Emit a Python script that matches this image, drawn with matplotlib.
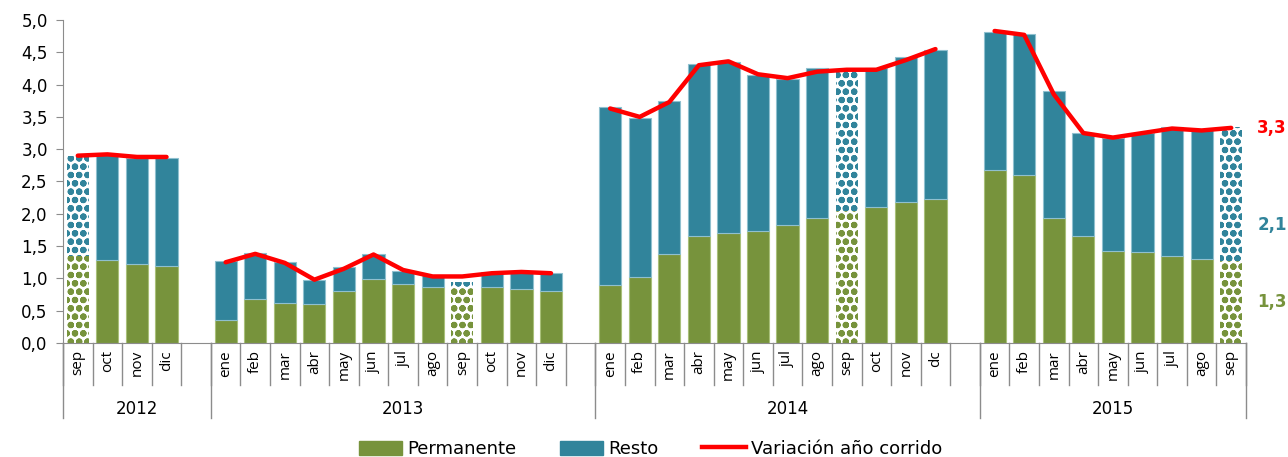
import numpy as np
import matplotlib
matplotlib.use("Agg")
import matplotlib.pyplot as plt
from matplotlib.patches import Patch
from matplotlib.lines import Line2D
import matplotlib.transforms as mtransforms

plt.rcParams['font.family'] = 'DejaVu Sans'
plt.rcParams['hatch.linewidth'] = 2.2

GREEN = '#77933C'
TEAL = '#31849B'
RED = '#FF0000'
GRAY = '#8C8C8C'

years = ['2012', '2013', '2014', '2015']
months = [
    ['sep', 'oct', 'nov', 'dic'],
    ['ene', 'feb', 'mar', 'abr', 'may', 'jun', 'jul', 'ago', 'sep', 'oct', 'nov', 'dic'],
    ['ene', 'feb', 'mar', 'abr', 'may', 'jun', 'jul', 'ago', 'sep', 'oct', 'nov', 'dc'],
    ['ene', 'feb', 'mar', 'abr', 'may', 'jun', 'jul', 'ago', 'sep'],
]
permanente = [
    [1.35, 1.28, 1.22, 1.19],
    [0.35, 0.68, 0.62, 0.60, 0.80, 0.99, 0.92, 0.87, 0.87, 0.86, 0.84, 0.80],
    [0.90, 1.02, 1.37, 1.65, 1.70, 1.73, 1.82, 1.93, 2.05, 2.10, 2.18, 2.23],
    [2.68, 2.60, 1.93, 1.65, 1.43, 1.41, 1.35, 1.30, 1.27],
]
total = [
    [2.90, 2.92, 2.87, 2.87],
    [1.27, 1.39, 1.25, 0.97, 1.17, 1.37, 1.12, 1.05, 0.95, 1.10, 1.10, 1.08],
    [3.65, 3.48, 3.75, 4.32, 4.35, 4.15, 4.08, 4.25, 4.22, 4.25, 4.43, 4.53],
    [4.82, 4.78, 3.90, 3.25, 3.17, 3.25, 3.35, 3.32, 3.35],
]
variacion = [
    [2.90, 2.92, 2.88, 2.88],
    [1.25, 1.38, 1.24, 0.98, 1.15, 1.37, 1.13, 1.03, 1.03, 1.08, 1.10, 1.08],
    [3.63, 3.50, 3.73, 4.30, 4.36, 4.16, 4.10, 4.20, 4.23, 4.23, 4.38, 4.55],
    [4.83, 4.77, 3.85, 3.25, 3.18, 3.25, 3.32, 3.29, 3.33],
]
# septiembre de cada año va con trama
hatched_month = 'sep'

# build flat series with one empty slot between years
labels, perm, tot, var, hatched = [], [], [], [], []
year_bounds = []
for yi, yr in enumerate(years):
    start = len(labels)
    for m, p, t, v in zip(months[yi], permanente[yi], total[yi], variacion[yi]):
        labels.append(m)
        perm.append(p)
        tot.append(t)
        var.append(v)
        hatched.append(m == hatched_month)
    if yi < len(years) - 1:
        labels.append('')
        perm.append(np.nan)
        tot.append(np.nan)
        var.append(np.nan)
        hatched.append(False)
    year_bounds.append((start, len(labels)))

perm = np.array(perm)
tot = np.array(tot)
var = np.array(var)
resto = tot - perm
x = np.arange(len(labels))

fig = plt.figure(figsize=(12.88, 4.57), dpi=100)
ax = fig.add_axes([63 / 1288, 1 - 343 / 457, (1246 - 63) / 1288, (343 - 20) / 457])

w = 0.75
for i in x:
    if np.isnan(perm[i]):
        continue
    if hatched[i]:
        ax.bar(i, perm[i], w, color='white', edgecolor=GREEN, hatch='oo', linewidth=0)
        ax.bar(i, resto[i], w, bottom=perm[i], color='white', edgecolor=TEAL, hatch='oo', linewidth=0)
    else:
        ax.bar(i, perm[i], w, color=GREEN, edgecolor='#A9C07A', linewidth=0.8)
        ax.bar(i, resto[i], w, bottom=perm[i], color=TEAL, edgecolor='#8FC0CF', linewidth=0.8)

ax.plot(x, var, color=RED, lw=3.2, solid_capstyle='round', solid_joinstyle='round', zorder=5)

ax.set_xlim(-0.5, len(labels) - 0.5)
ax.set_ylim(0, 5)
ax.set_yticks(np.arange(0, 5.01, 0.5))
ax.set_yticklabels([f"{v:.1f}".replace('.', ',') for v in np.arange(0, 5.01, 0.5)], fontsize=12)
ax.tick_params(axis='y', direction='out', length=5, color=GRAY, pad=6)
ax.set_xticks([])
for s in ['top', 'right']:
    ax.spines[s].set_visible(False)
ax.spines['left'].set_color(GRAY)
ax.spines['bottom'].set_color(GRAY)

# multi-level category axis
trans = mtransforms.blended_transform_factory(ax.transData, ax.transAxes)
for i, lab in enumerate(labels):
    if lab:
        ax.text(i, -0.022, lab, rotation=90, ha='center', va='top', fontsize=11,
                family='Open Sans', transform=trans)
for i in range(len(labels) + 1):
    ax.plot([i - 0.5, i - 0.5], [0, -0.13], color=GRAY, lw=1, transform=trans, clip_on=False)
for yi, (s, e) in enumerate(year_bounds):
    ax.plot([s - 0.5, s - 0.5], [0, -0.232], color=GRAY, lw=1, transform=trans, clip_on=False)
    ax.text((s + e - 1) / 2, -0.204, years[yi], ha='center', va='center', fontsize=12, transform=trans)
ax.plot([len(labels) - 0.5] * 2, [0, -0.232], color=GRAY, lw=1, transform=trans, clip_on=False)

# último dato
last = len(labels) - 1
lx = last + 1.38
ax.text(lx, var[last], f"{var[last]:.1f}".replace('.', ','), color=RED, fontsize=12,
        fontweight='bold', ha='center', va='center', clip_on=False)
ax.text(lx, perm[last] + resto[last] * 0.27, f"{resto[last]:.1f}".replace('.', ','), color=TEAL,
        fontsize=12, fontweight='bold', ha='center', va='center', clip_on=False)
ax.text(lx, perm[last] / 2, f"{perm[last]:.1f}".replace('.', ','), color=GREEN, fontsize=12,
        fontweight='bold', ha='center', va='center', clip_on=False)

handles = [Patch(color=GREEN, label='Permanente'),
           Patch(color=TEAL, label='Resto'),
           Line2D([0], [0], color=RED, lw=3.2, label='Variación año corrido')]
fig.legend(handles=handles, loc='center', bbox_to_anchor=(0.505, 0.017), ncol=3, frameon=False,
           fontsize=13, handlelength=2.4, handleheight=0.9, columnspacing=2.4, handletextpad=0.3)

fig.savefig('out.png', dpi=100)
